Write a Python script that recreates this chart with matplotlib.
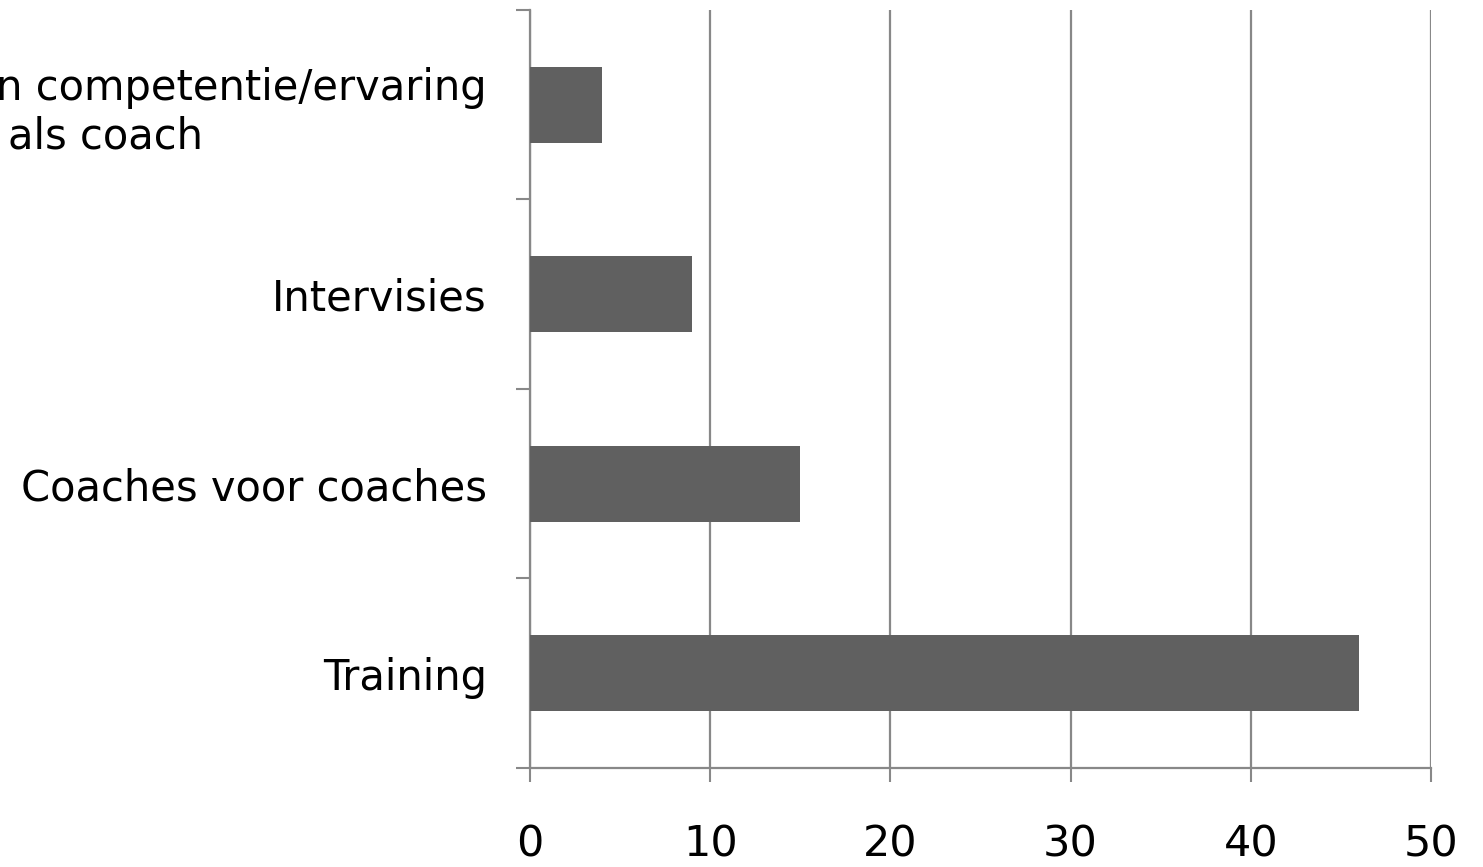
import matplotlib
matplotlib.use('Agg')
import matplotlib.pyplot as plt

# categories listed bottom to top
categories = ['Training', 'Coaches voor coaches', 'Intervisies',
              'Erkenning van competentie/ervaring\nals coach']
values = [46, 15, 9, 4]
x_ticks = [0, 10, 20, 30, 40, 50]

GRID = '#888888'
BAR = '#606060'

plt.rcParams['font.family'] = 'DejaVu Sans'

fig = plt.figure(figsize=(14.83, 8.67), dpi=100)
ax = fig.add_axes([0.3574, 0.1142, 0.6075, 0.8743])

y = list(range(len(categories)))
ax.barh(y, values, height=0.4, color=BAR, zorder=3)

ax.set_xlim(0, 50)
ax.set_ylim(-0.5, len(categories) - 0.5)

# x axis
ax.set_xticks(x_ticks)
ax.set_xticklabels([str(t) for t in x_ticks], fontsize=31)
ax.tick_params(axis='x', direction='out', length=10, width=1.5,
               color=GRID, pad=30)
ax.grid(axis='x', color=GRID, linewidth=1.6, zorder=0)
ax.grid(axis='y', visible=False)

# y axis: ticks on boundaries, labels centred on bars
ax.set_yticks([i - 0.5 for i in range(len(categories) + 1)])
ax.set_yticklabels([])
ax.tick_params(axis='y', which='major', direction='out', length=10,
               width=1.5, color=GRID)
ax.set_yticks(y, minor=True)
ax.set_yticklabels(categories, minor=True, fontsize=30,
                   multialignment='center')
ax.tick_params(axis='y', which='minor', length=0, pad=31)

for s in ['top', 'right']:
    ax.spines[s].set_visible(False)
for s in ['left', 'bottom']:
    ax.spines[s].set_color(GRID)
    ax.spines[s].set_linewidth(1.6)

fig.savefig('out.png', dpi=100)
